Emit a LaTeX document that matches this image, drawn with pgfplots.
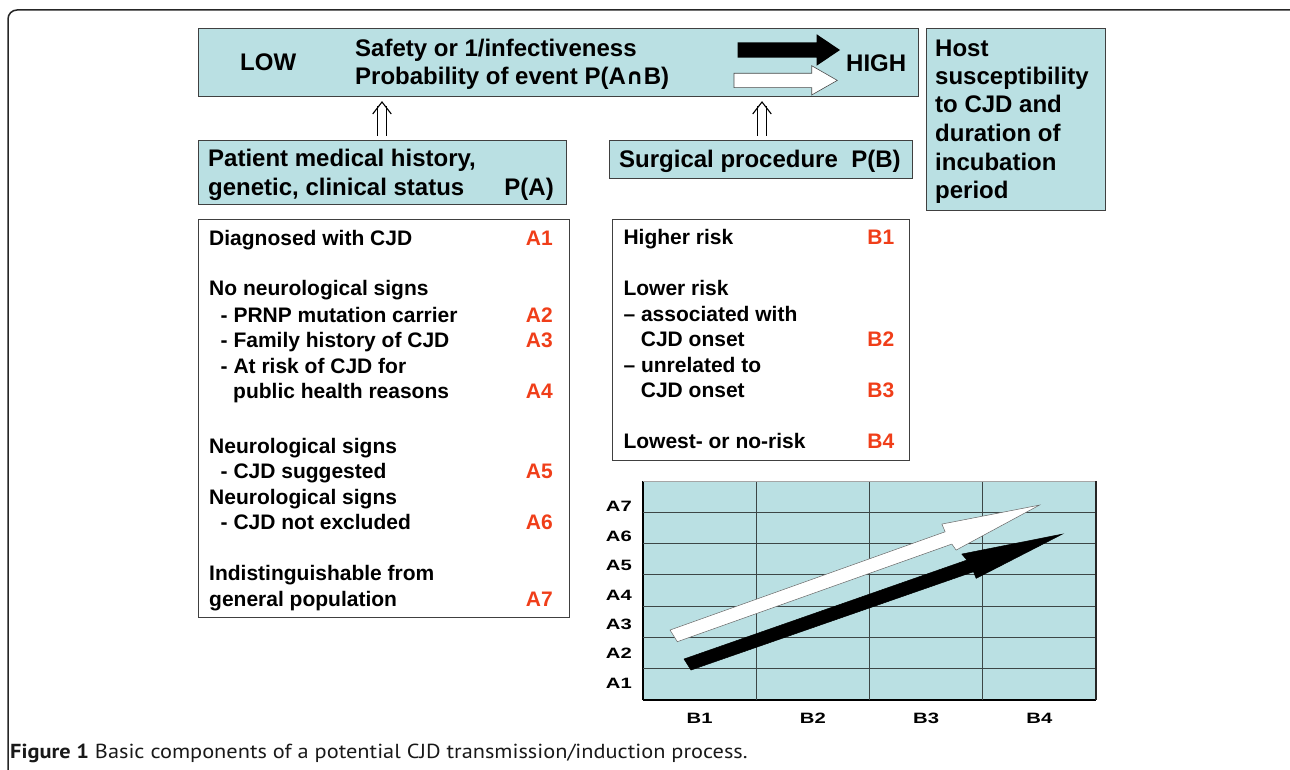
\documentclass[border=0pt]{standalone}
\usepackage{pgfplots}
\pgfplotsset{compat=1.18}
\usepackage{fontspec}
\setmainfont{Liberation Sans}
\newfontfamily\chartf[FakeStretch=1.35]{Liberation Sans}
\newfontfamily\capf[FakeStretch=1.1]{PT Sans}
\newfontfamily\symf{DejaVu Sans}
\definecolor{boxblue}{RGB}{186,224,227}
\definecolor{lblred}{RGB}{240,62,25}
\definecolor{gridc}{RGB}{60,70,70}
\newcommand{\hf}{\fontsize{24}{28}\selectfont\bfseries}
\newcommand{\lf}{\fontsize{21}{25}\selectfont\bfseries}
\newcommand{\rl}[1]{\textcolor{lblred}{#1}}
\begin{document}
\begin{tikzpicture}
\useasboundingbox (0,0) rectangle (1290pt,769pt);
\begin{scope}[x=1pt,y=-1pt,yshift=769pt]
  \begin{scope}
    \clip (0,0) rectangle (1290,769);
    \draw[line width=1.5pt, rounded corners=9pt, black!85] (8,10) rectangle (1300,800);
  \end{scope}
  % ---- top box
  \draw[fill=boxblue, draw=black!75, line width=0.8pt] (198,28) rectangle (918,96);
  \node[anchor=base west, inner sep=0] at (240,70.5) {\hf LOW};
  \node[anchor=base west, inner sep=0] at (355,56.6) {\hf Safety or 1/infectiveness};
  \node[anchor=base west, inner sep=0] at (355,84.6) {\hf Probability of event P(A{\symf\fontsize{22}{26}\selectfont\bfseries ∩}B)};
  \node[anchor=base west, inner sep=0] at (846,72) {\hf HIGH};
  \fill[black] (737.7,42.3) -- (816.7,42.3) -- (816.7,34.3) -- (840,50) -- (816.7,65.7) -- (816.7,57.7) -- (737.7,57.7) -- cycle;
  \filldraw[fill=white, draw=black!70, line width=0.6pt] (734,73.3) -- (811.7,73.3) -- (811.7,65.7) -- (837.3,80.4) -- (811.7,95) -- (811.7,87.7) -- (734,87.7) -- cycle;
  % ---- host box
  \draw[fill=boxblue, draw=black!75, line width=0.8pt] (926,28) rectangle (1105,210);
  \foreach \t/\y in {Host/56.6, susceptibility/84.6, to CJD and/112.6, duration of/141.6, incubation/170.6, period/198.6}
    \node[anchor=base west, inner sep=0] at (935,\y) {\hf \t};
  % ---- double arrows
  \foreach \cx in {382,762}{
    \draw[line width=1.1pt] (\cx-4.6,136) -- (\cx-4.6,106);
    \draw[line width=1.1pt] (\cx+4.4,136) -- (\cx+4.4,106);
    \draw[line width=1.1pt] (\cx-9.3,114) -- (\cx,102) -- (\cx+9.3,114);
  }
  % ---- patient box
  \draw[fill=boxblue, draw=black!75, line width=0.8pt] (198,140) rectangle (566,204);
  \node[anchor=base west, inner sep=0] at (208,166.6) {\hf Patient medical history,};
  \node[anchor=base west, inner sep=0] at (208,195.6) {\hf genetic, clinical status};
  \node[anchor=base east, inner sep=0] at (554,195.6) {\hf P(A)};
  % ---- surgical box
  \draw[fill=boxblue, draw=black!75, line width=0.8pt] (609,140) rectangle (912,178);
  \node[anchor=base west, inner sep=0] at (619,167.6) {\hf Surgical procedure\ \ P(B)};
  % ---- A list
  \draw[fill=white, draw=black!75, line width=0.8pt] (198.5,219) rectangle (569,617.3);
  \foreach \x/\y/\t in {209/245.7/Diagnosed with CJD, 209/296/No neurological signs, 220.5/322.3/- PRNP mutation carrier, 220.5/347.3/- Family history of CJD, 220.5/373.3/- At risk of CJD for, 233/398.3/public health reasons, 209/453.3/Neurological signs, 220.5/478.3/- CJD suggested, 209/504/Neurological signs, 220.5/529/- CJD not excluded, 209/580.7/Indistinguishable from, 209/606/general population}
    \node[anchor=base west, inner sep=0] at (\x,\y) {\lf \t};
  \foreach \y/\t in {245.7/A1, 322.3/A2, 347.3/A3, 398.3/A4, 478.3/A5, 529/A6, 606/A7}
    \node[anchor=base east, inner sep=0] at (553,\y) {\lf\rl{\t}};
  % ---- B list
  \draw[fill=white, draw=black!75, line width=0.8pt] (612.7,219.3) rectangle (909.3,460);
  \foreach \x/\y/\t in {623.3/245/Higher risk, 623.3/296/Lower risk, 623.3/321.7/– associated with, 640.7/346.7/CJD onset, 623.3/372.7/– unrelated to, 640.7/397.3/CJD onset, 623.3/448.3/Lowest- or no-risk}
    \node[anchor=base west, inner sep=0] at (\x,\y) {\lf \t};
  \foreach \y/\t in {245/B1, 346.7/B2, 397.3/B3, 448.3/B4}
    \node[anchor=base east, inner sep=0] at (894.5,\y) {\lf\rl{\t}};
  % ---- caption
  \node[anchor=base west, inner sep=0, text=black!90] at (10,758) {\capf\fontsize{20.3}{22}\selectfont\textbf{Figure 1} Basic components of a potential CJD transmission/induction process.};
\end{scope}
\begin{axis}[
  at={(643pt,69pt)}, anchor=south west, scale only axis, width=453pt, height=219pt,
  xmin=0, xmax=4, ymin=0, ymax=7,
  axis background/.style={fill=boxblue},
  axis x line*=bottom, axis y line*=left,
  axis line style={line width=1.8pt, black, -},
  xtick={0.5,1.5,2.5,3.5}, xticklabels={B1,B2,B3,B4},
  ytick={0.553,1.49,2.43,3.36,4.31,5.24,6.18}, yticklabels={A1,A2,A3,A4,A5,A6,A7},
  major tick length=0pt,
  tick label style={font=\chartf\fontsize{15}{15}\selectfont\bfseries, inner sep=0pt},
  xticklabel style={anchor=base, yshift=-23.4pt},
  yticklabel style={anchor=base east, xshift=-11pt, yshift=-5.3pt},
  extra x ticks={1,2,3}, extra x tick labels={},
  extra y ticks={1,2,3,4,5,6}, extra y tick labels={},
  extra tick style={grid=major, major grid style={gridc, line width=0.9pt}, major tick length=0pt},
  clip=false,
]
\draw[line width=0.8pt, gray!70] (rel axis cs:0,1) -- (rel axis cs:1,1);
\draw[line width=1.8pt, black!85] (rel axis cs:1,0) -- (rel axis cs:1,1);
\addplot[fill=white, draw=gray!80!black, line width=0.5pt] coordinates {(0.2385,2.236) (2.668,5.377) (2.639,5.623) (3.501,6.230) (2.765,4.792) (2.727,4.984) (0.303,1.863)} -- cycle;
\addplot[fill=black, draw=black, line width=0.5pt] coordinates {(0.362,1.310) (2.860,4.473) (2.815,4.665) (3.704,5.304) (2.942,3.888) (2.918,4.099) (0.424,0.958)} -- cycle;
\end{axis}
\end{tikzpicture}
\end{document}
